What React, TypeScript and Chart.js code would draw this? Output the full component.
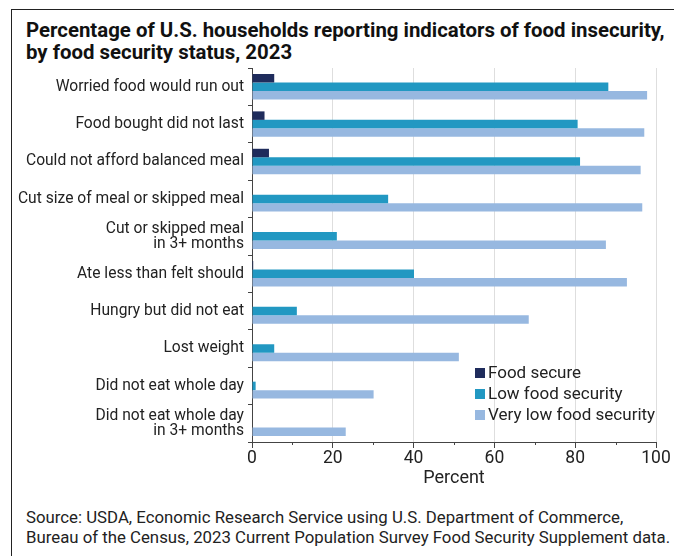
import React, { useEffect, useRef } from 'react';
import { Chart, registerables } from 'chart.js';

Chart.register(...registerables);

const titleLines = [
  'Percentage of U.S. households reporting indicators of food insecurity,',
  'by food security status, 2023',
];
const sourceLines = [
  'Source: USDA, Economic Research Service using U.S. Department of Commerce,',
  'Bureau of the Census, 2023 Current Population Survey Food Security Supplement data.',
];
const categories: (string | string[])[] = [
  'Worried food would run out',
  'Food bought did not last',
  'Could not afford balanced meal',
  'Cut size of meal or skipped meal',
  ['Cut or skipped meal', 'in 3+ months'],
  'Ate less than felt should',
  'Hungry but did not eat',
  'Lost weight',
  'Did not eat whole day',
  ['Did not eat whole day', 'in 3+ months'],
];
const seriesNames = ['Food secure', 'Low food security', 'Very low food security'];
const foodSecure = [5.5, 3.1, 4.2, 0, 0, 0.3, 0, 0, 0, 0];
const lowFoodSecurity = [88.2, 80.6, 81.2, 33.7, 21.0, 40.1, 11.1, 5.5, 0.9, 0];
const veryLowFoodSecurity = [97.8, 97.1, 96.2, 96.6, 87.6, 92.8, 68.5, 51.2, 30.1, 23.2];
const seriesColors = ['#1f2c5c', '#2298c2', '#97b8e0'];
const xMin = 0;
const xMax = 100;
const xStep = 10;
const xLabelEvery = 20;
const axisTitle = 'Percent';

const FONT = 'Roboto, "Liberation Sans", Arial, sans-serif';

const minorTicksPlugin = {
  id: 'minorTicks',
  afterDraw(chart: any) {
    const sx = chart.scales.x;
    const ctx = chart.ctx;
    ctx.save();
    ctx.strokeStyle = '#444';
    ctx.lineWidth = 1;
    sx.ticks.forEach((t: any) => {
      if (t.value % xLabelEvery !== 0) {
        const px = Math.round(sx.getPixelForValue(t.value)) + 0.5;
        ctx.beginPath();
        ctx.moveTo(px, chart.chartArea.bottom);
        ctx.lineTo(px, chart.chartArea.bottom + 3);
        ctx.stroke();
      }
    });
    ctx.restore();
  },
};

export default function App() {
  const canvasRef = useRef<HTMLCanvasElement | null>(null);

  useEffect(() => {
    const canvas = canvasRef.current;
    if (!canvas) return;
    const values = [foodSecure, lowFoodSecurity, veryLowFoodSecurity];
    const chart = new Chart(canvas, {
      type: 'bar',
      data: {
        labels: categories as any,
        datasets: seriesNames.map((name, i) => ({
          label: name,
          data: values[i],
          backgroundColor: seriesColors[i],
          borderWidth: 0,
          barPercentage: 1,
          categoryPercentage: 0.68,
        })),
      },
      options: {
        indexAxis: 'y',
        animation: false,
        responsive: false,
        maintainAspectRatio: false,
        layout: { padding: { left: 0, right: 18, top: 10, bottom: 1 } },
        plugins: {
          legend: { display: false },
          tooltip: { enabled: false },
          title: { display: false },
        },
        scales: {
          x: {
            type: 'linear',
            min: xMin,
            max: xMax,
            border: { color: '#444', width: 1 },
            grid: {
              color: (c: any) => (c.tick && c.tick.value % xLabelEvery === 0 && c.tick.value !== xMin ? '#dedede' : 'rgba(0,0,0,0)'),
              tickColor: (c: any) => (c.tick && c.tick.value % xLabelEvery === 0 ? '#444' : 'rgba(0,0,0,0)'),
              tickLength: 6,
            },
            ticks: {
              stepSize: xStep,
              autoSkip: false,
              maxRotation: 0,
              padding: 0,
              color: '#222',
              font: { family: FONT, size: 17.5 },
              callback: (v: any) => (Number(v) % xLabelEvery === 0 ? String(v) : ''),
            },
            title: {
              display: true,
              text: axisTitle,
              color: '#222',
              font: { family: FONT, size: 18, lineHeight: 1 },
              padding: { top: 0, bottom: 0 },
            },
          },
          y: {
            border: { color: '#444', width: 1 },
            grid: { drawOnChartArea: false, tickColor: '#444', tickLength: 4 },
            ticks: {
              padding: 4,
              color: '#222',
              autoSkip: false,
              font: { family: FONT, size: 15.6, lineHeight: 0.96 },
            },
            afterFit: (scale: any) => {
              scale.width = 252;
              scale.paddingTop = 0;
              scale.paddingBottom = 0;
            },
          },
        },
      },
      plugins: [minorTicksPlugin],
    });
    return () => chart.destroy();
  }, []);

  return (
    <div
      style={{
        position: 'absolute',
        left: 0,
        top: 0,
        width: 674,
        height: 556,
        background: '#fff',
        overflow: 'hidden',
        fontFamily: FONT,
        color: '#1a1a1a',
      }}
    >
      <div
        style={{
          position: 'absolute',
          left: 11,
          top: 9,
          right: 0,
          bottom: 0,
          borderLeft: '1px solid #222',
          borderTop: '1px solid #222',
        }}
      />
      <div
        style={{
          position: 'absolute',
          left: 26,
          top: 19,
          fontSize: 20.4,
          fontWeight: 700,
          lineHeight: '22px',
          whiteSpace: 'nowrap',
          color: '#111',
        }}
      >
        {titleLines.map((t, i) => (
          <div key={i}>{t}</div>
        ))}
      </div>
      <canvas
        ref={canvasRef}
        width={674}
        height={430}
        style={{ position: 'absolute', left: 0, top: 58, width: 674, height: 430 }}
      />
      <div style={{ position: 'absolute', left: 475, top: 362, fontSize: 17, lineHeight: '21px', color: '#222' }}>
        {seriesNames.map((n, i) => (
          <div key={i} style={{ display: 'flex', alignItems: 'center', whiteSpace: 'nowrap' }}>
            <span style={{ display: 'inline-block', width: 10, height: 10, background: seriesColors[i], marginRight: 3 }} />
            {n}
          </div>
        ))}
      </div>
      <div
        style={{
          position: 'absolute',
          left: 26,
          top: 507,
          fontSize: 16.8,
          lineHeight: '20px',
          whiteSpace: 'nowrap',
          color: '#222',
        }}
      >
        {sourceLines.map((t, i) => (
          <div key={i}>{t}</div>
        ))}
      </div>
    </div>
  );
}
